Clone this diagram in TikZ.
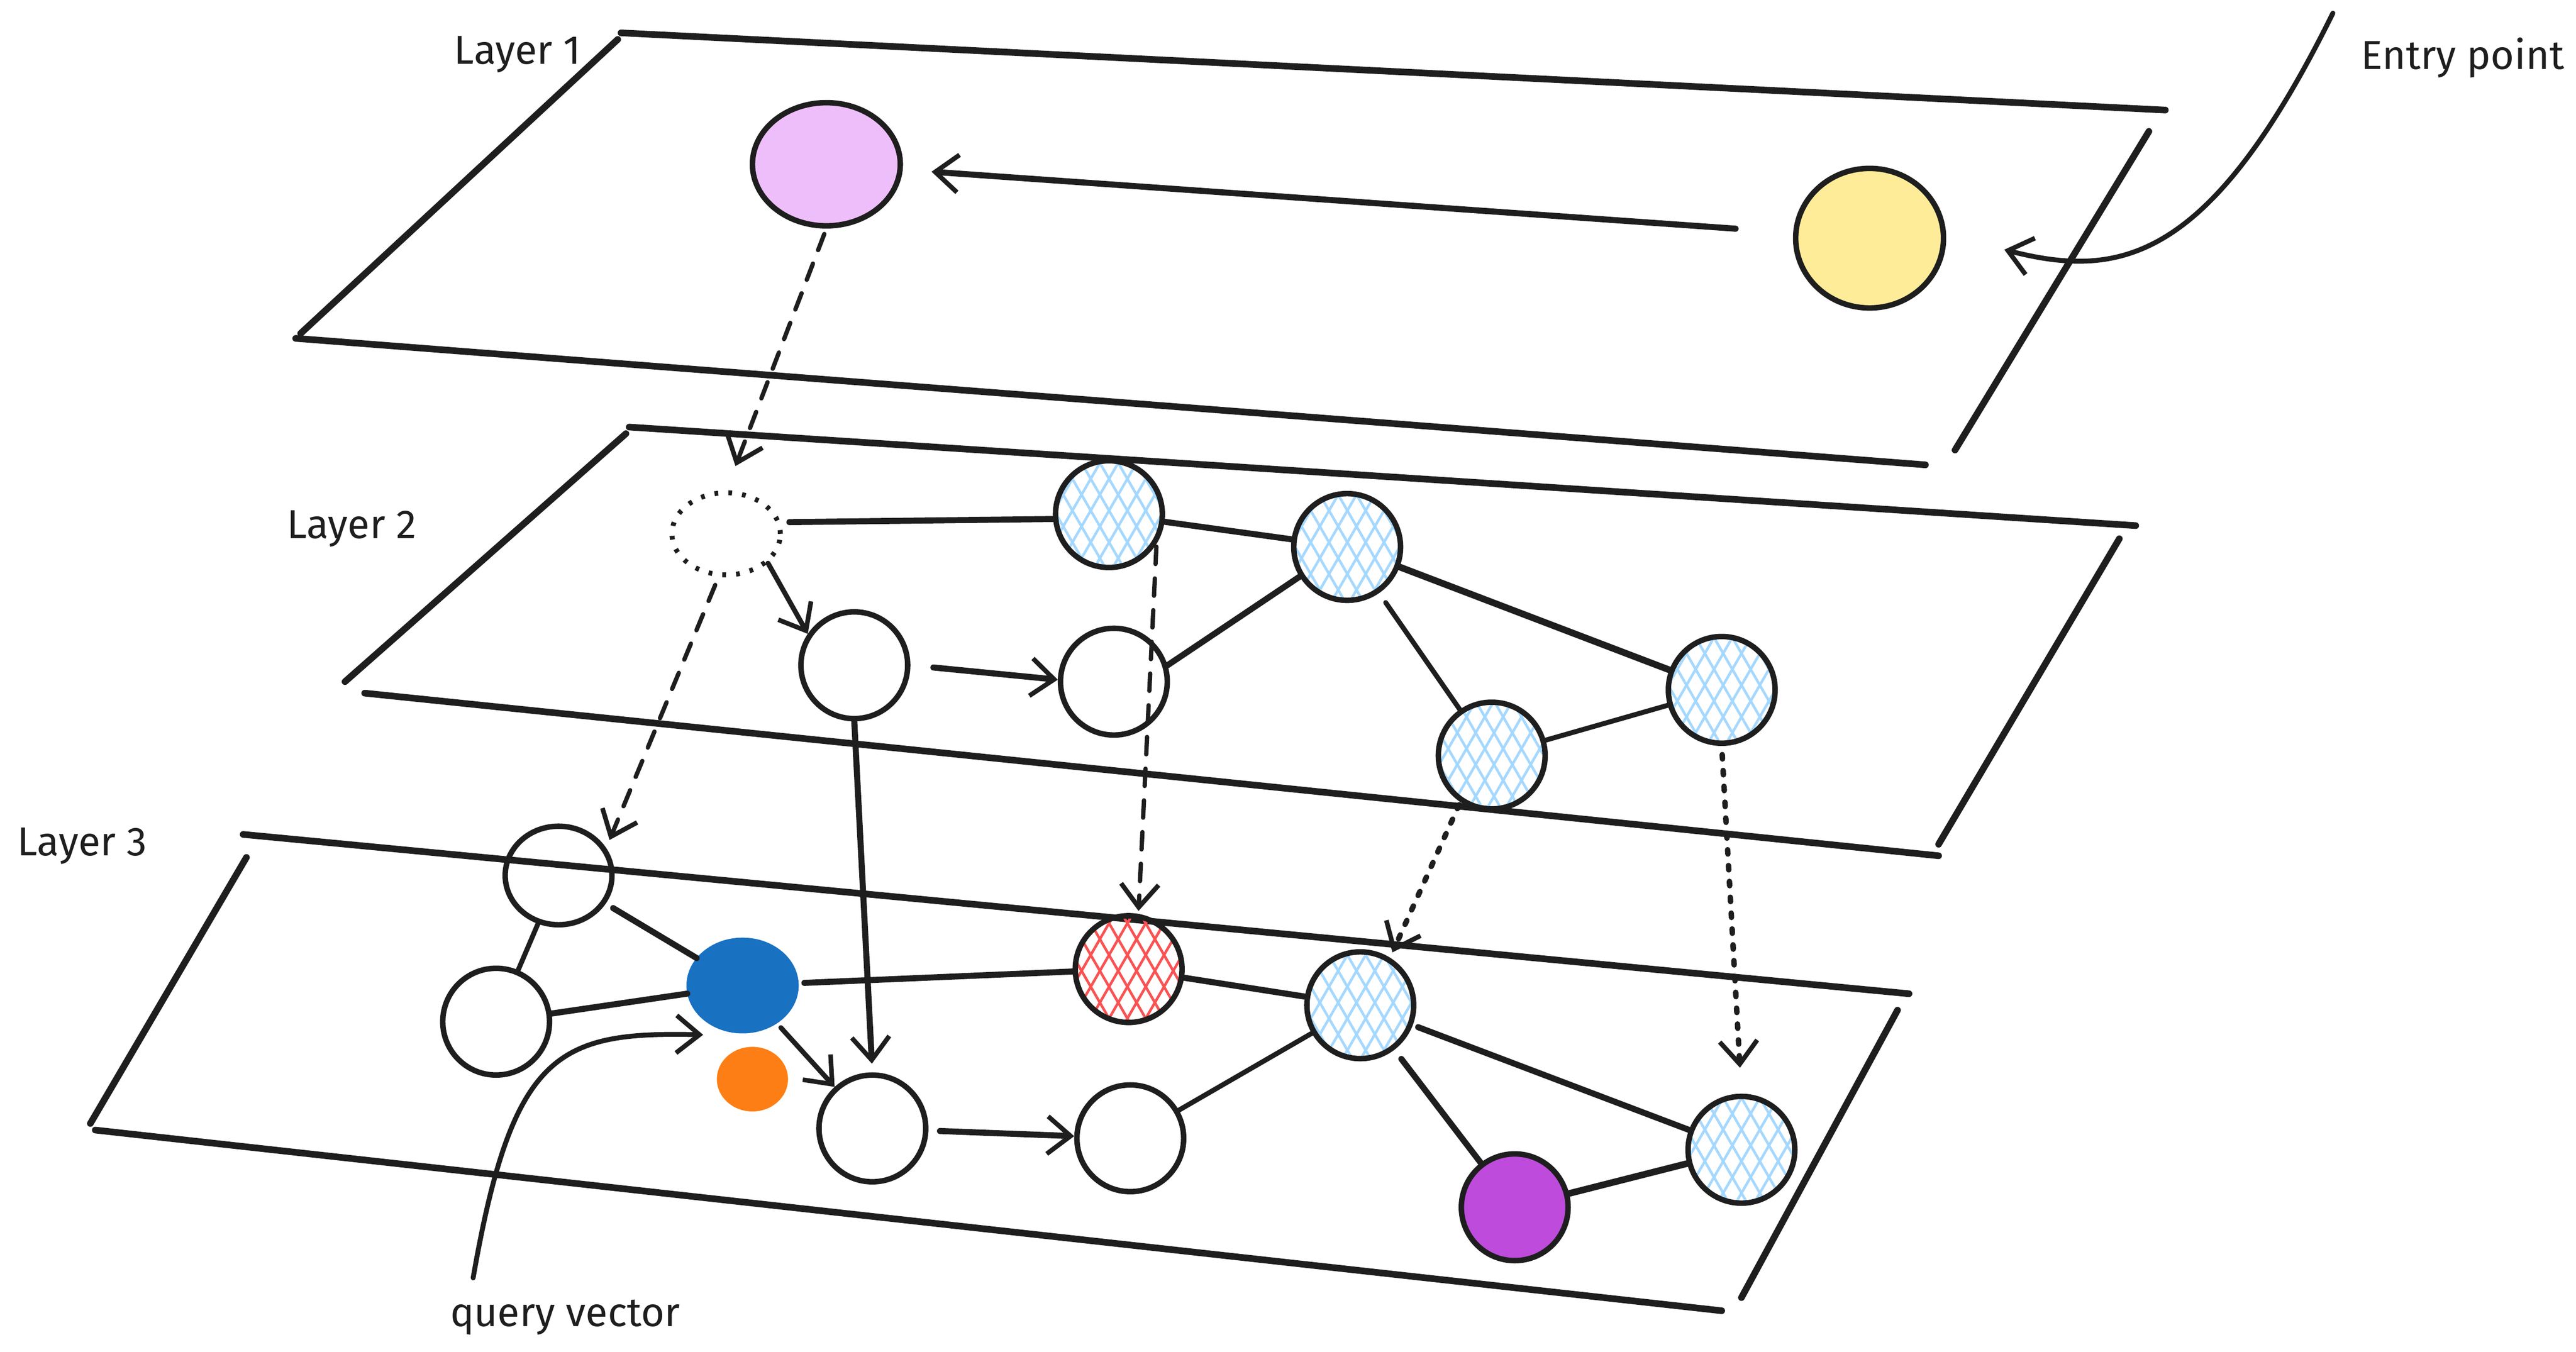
\documentclass[tikz,border=0pt]{standalone}
\usepackage{fontspec}
\setmainfont{Fira Sans}
\usetikzlibrary{shapes.geometric,arrows.meta,patterns.meta}
\definecolor{ink}{HTML}{1E1E1E}
\definecolor{pinkfill}{HTML}{EEBEFA}
\definecolor{yellowfill}{HTML}{FFEC99}
\definecolor{bluefill}{HTML}{1971C2}
\definecolor{orangefill}{HTML}{FD7E14}
\definecolor{purplefill}{HTML}{BE4BDB}
\definecolor{hblue}{HTML}{A5D8FF}
\definecolor{hred}{HTML}{FA5252}
\tikzset{
  plane/.style={draw=ink,line width=2.3pt,line cap=round},
  vtx/.style={ellipse,draw=ink,line width=1.9pt,inner sep=0pt,minimum width=1.3cm,minimum height=1.3cm},
  hatchb/.style={preaction={pattern={Lines[angle=60,distance=5.5pt,line width=0.9pt]},pattern color=hblue},
                 preaction={pattern={Lines[angle=-60,distance=5.5pt,line width=0.9pt]},pattern color=hblue}},
  hatchr/.style={preaction={pattern={Lines[angle=60,distance=5.5pt,line width=0.9pt]},pattern color=hred},
                 preaction={pattern={Lines[angle=-60,distance=5.5pt,line width=0.9pt]},pattern color=hred}},
  edge/.style={draw=ink,line width=1.7pt,line cap=round},
  arr/.style={edge,-{Straight Barb[length=8pt,width=13pt,line width=1.6pt]}},
  dashedarr/.style={arr,dash pattern=on 6pt off 5pt,line width=1.5pt},
  dottedarr/.style={arr,dash pattern=on 1.5pt off 4pt,line width=1.9pt},
  lbl/.style={font=\fontsize{14}{16}\selectfont,text=ink,inner sep=0pt}
}
\begin{document}
\begin{tikzpicture}[x=0.02cm,y=-0.02cm]
\useasboundingbox (0,0) rectangle (1568,823);
% ---------- planes ----------
% Layer 1
\draw[plane] (378,20) -- (1318,67);
\draw[plane] (376,24) -- (183,203);
\draw[plane] (180,206) -- (1172,283);
\draw[plane] (1308,80) -- (1190,274);
% Layer 2
\draw[plane] (383,260) -- (1300,320);
\draw[plane] (381,264) -- (210,415);
\draw[plane] (222,422) -- (1180,521);
\draw[plane] (1290,328) -- (1180,514);
% Layer 3
\draw[plane] (148,508) -- (1162,605);
\draw[plane] (150,522) -- (55,684);
\draw[plane] (58,688) -- (1048,798);
\draw[plane] (1155,615) -- (1060,790);
% ---------- labels ----------
\node[lbl] (l1) at (315,33) {Layer 1};
\node[lbl] (l2) at (214,322) {Layer 2};
\node[lbl] (l3) at (50,515) {Layer 3};
\node[lbl] (lep) at (1499,35) {Entry point};
\node[lbl] (lqv) at (344,802) {query vector};
% ---------- layer 1 nodes ----------
\node[vtx,fill=pinkfill,minimum width=1.8cm,minimum height=1.5cm] (pink) at (503,100) {};
\node[vtx,fill=yellowfill,minimum width=1.8cm,minimum height=1.7cm] (yel) at (1138,145) {};
% ---------- layer 2 nodes ----------
\node[vtx,draw=ink,line width=1.7pt,dash pattern=on 1.3pt off 3.5pt,minimum width=1.32cm,minimum height=1.0cm] (A) at (442,325) {};
\node[vtx,hatchb] (B) at (675,313) {};
\node[vtx,hatchb] (C) at (820,333) {};
\node[vtx] (D) at (520,405) {};
\node[vtx] (E) at (678,415) {};
\node[vtx,hatchb] (F) at (908,460) {};
\node[vtx,hatchb] (G) at (1048,420) {};
% ---------- layer 3 nodes ----------
\node[vtx,minimum height=1.2cm] (H) at (340,533) {};
\node[vtx] (I) at (302,622) {};
\node[vtx,fill=bluefill,draw=bluefill,minimum width=1.3cm,minimum height=1.1cm] (J) at (452,600) {};
\node[vtx,fill=orangefill,draw=orangefill,minimum width=0.8cm,minimum height=0.72cm] (Q) at (458,657) {};
\node[vtx] (K) at (531,687) {};
\node[vtx] (L) at (688,693) {};
\node[vtx,hatchr] (R) at (687,590) {};
\node[vtx,hatchb] (M) at (828,612) {};
\node[vtx,hatchb] (P) at (1060,700) {};
\node[vtx,fill=purplefill] (N) at (922,735) {};
% ---------- free ends ----------
\coordinate (epstart) at (1420,8);
\coordinate (eptip) at (1220,152);
\coordinate (qvstart) at (288,778);
\coordinate (qvtip) at (428,630);
% ---------- layer 1 edges ----------
\draw[arr,line width=2.1pt,shorten <=20pt,shorten >=10pt] (yel) -- (pink);
\draw[arr] (epstart) .. controls (1345,160) and (1290,170) .. (eptip);
% ---------- interlayer ----------
\draw[dashedarr,shorten <=2pt,shorten >=9pt] (pink.south) -- (A.north);
\draw[dashedarr,shorten <=3pt,shorten >=3pt] (A.260) -- (H.30);
\draw[arr,line width=2.1pt,shorten <=0pt,shorten >=3pt] (D.south) -- (K.north);
\draw[dashedarr,shorten <=1pt,shorten >=1pt] (B.-32) -- (R.80);
\draw[dottedarr,shorten <=1pt,shorten >=2pt] (F.236) -- (M.58);
\draw[dottedarr,shorten <=3pt,shorten >=9pt] (G.south) -- (P.north);
% ---------- layer 2 edges ----------
\draw[edge,line width=2.1pt,shorten <=3pt] (A.12) -- (B.185);
\draw[arr] (A.-35) -- (D.146);
\draw[arr,line width=2.1pt,shorten <=8pt] (D.east) -- (E.178);
\draw[edge,line width=2.1pt] (E.17) -- (C.212);
\draw[edge,line width=2.1pt] (B) -- (C);
\draw[edge,line width=2.3pt] (C) -- (G);
\draw[edge,shorten <=4pt] (C) -- (F);
\draw[edge] (F) -- (G);
% ---------- layer 3 edges ----------
\draw[edge] (H) -- (I);
\draw[edge,line width=2.1pt,shorten <=3pt] (H) -- (J);
\draw[edge,line width=2.1pt] (I) -- (J);
\draw[edge,line width=2.1pt,shorten <=2pt] (J) -- (R);
\draw[arr,shorten <=2pt] (J) -- (K);
\draw[arr,line width=2.1pt,shorten <=4pt] (K) -- (L);
\draw[edge] (L) -- (M);
\draw[edge,line width=2.1pt] (R) -- (M);
\draw[edge,line width=2.1pt,shorten <=2pt] (M) -- (P);
\draw[edge,line width=2.1pt,shorten <=4pt] (M) -- (N);
\draw[edge,line width=2.3pt] (N) -- (P);
\draw[arr] (qvstart) .. controls (312,640) and (340,628) .. (qvtip);
\end{tikzpicture}
\end{document}
